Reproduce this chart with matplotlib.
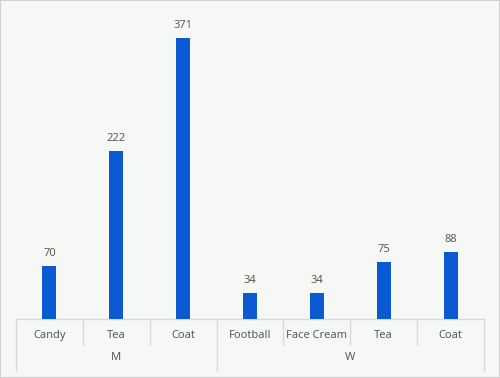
import matplotlib
matplotlib.use("Agg")
import matplotlib.pyplot as plt
from matplotlib.transforms import blended_transform_factory

groups = ["M", "W"]
group_items = [["Candy", "Tea", "Coat"], ["Football", "Face Cream", "Tea", "Coat"]]
values = [70, 222, 371, 34, 34, 75, 88]

labels = [it for g in group_items for it in g]
bg = "#f6f8f6"
bar_color = "#0b5ad4"
text_color = "#595959"
line_color = "#d9d9d9"

plt.rcParams['font.family'] = ['Noto Sans', 'DejaVu Sans']

fig = plt.figure(figsize=(5.0, 3.78), dpi=100, facecolor=bg)
ax = fig.add_axes([0.032, 0.156, 0.936, 0.802])
ax.set_facecolor(bg)

x = list(range(len(values)))
ax.bar(x, values, width=0.21, color=bar_color, zorder=3)
for xi, v in zip(x, values):
    ax.annotate(str(v), (xi, v), xytext=(0, 5), textcoords="offset points",
                ha="center", va="bottom", fontsize=8, color=text_color)

ax.set_xlim(-0.5, len(values) - 0.5)
ax.set_ylim(0, 400)
ax.set_xticks([])
ax.set_yticks([])
for s in ["top", "left", "right"]:
    ax.spines[s].set_visible(False)
ax.spines["bottom"].set_color(line_color)
ax.spines["bottom"].set_linewidth(1)

tr = blended_transform_factory(ax.transData, ax.transAxes)
px = 1.0 / (0.802 * 378)  # one pixel in axes fraction (vertical)

# item labels
for xi, lab in zip(x, labels):
    ax.text(xi, -16 * px, lab, transform=tr, ha="center", va="center",
            fontsize=8, color=text_color)

# inner separators (short)
boundaries = [i - 0.5 for i in range(len(values) + 1)]
outer = [-0.5]
acc = -0.5
for g in group_items:
    acc += len(g)
    outer.append(acc)
for b in boundaries:
    if any(abs(b - o) < 1e-9 for o in outer):
        ax.plot([b, b], [0, -52 * px], transform=tr, color=line_color, lw=1, clip_on=False)
    else:
        ax.plot([b, b], [0, -26 * px], transform=tr, color=line_color, lw=1, clip_on=False)

# group labels
start = -0.5
for g, items in zip(groups, group_items):
    center = start + len(items) / 2
    ax.text(center, -38 * px, g, transform=tr, ha="center", va="center",
            fontsize=8, color=text_color)
    start += len(items)

# figure border
fig.patches.append(plt.Rectangle((0, 0), 1, 1, transform=fig.transFigure,
                                 fill=False, edgecolor="#d0d0d0", lw=1.5))

fig.savefig("out.png", dpi=100, facecolor=bg)
